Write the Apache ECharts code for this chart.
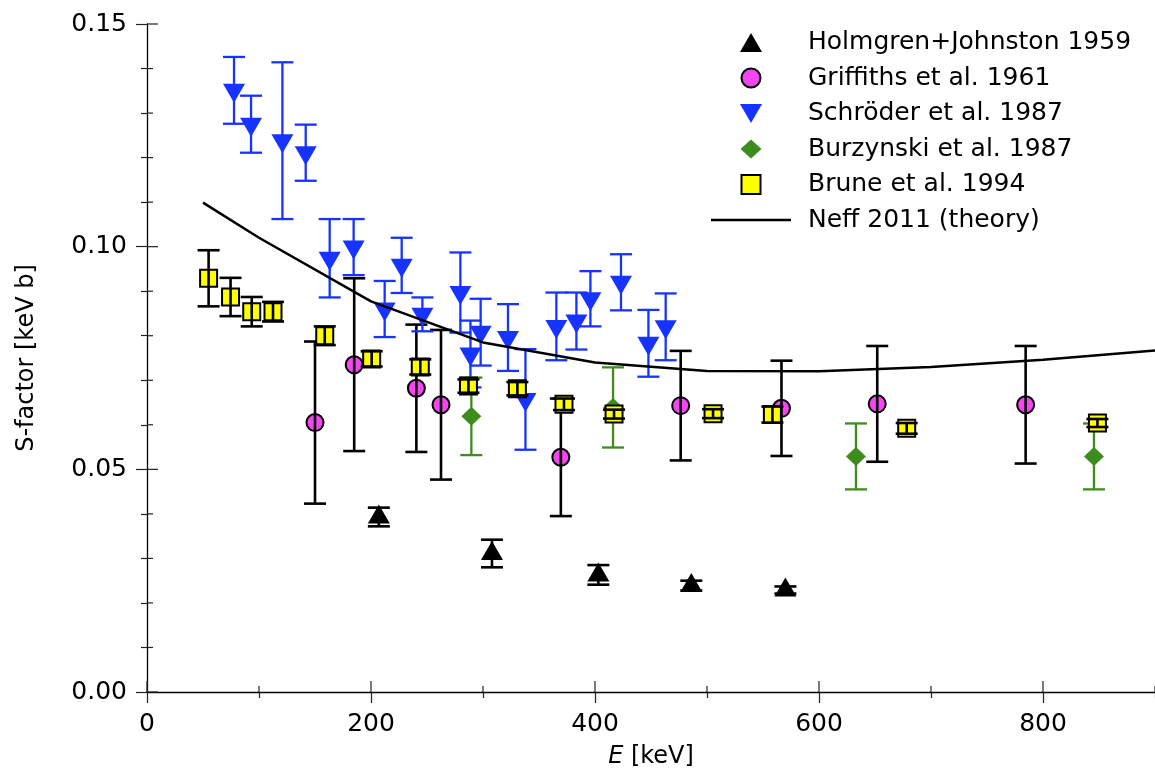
<!DOCTYPE html>
<html>
<head>
<meta charset="utf-8">
<script src="https://cdn.jsdelivr.net/npm/echarts@6/dist/echarts.min.js"></script>
<style>
html,body{margin:0;padding:0;background:#fff;}
#c{width:1155px;height:774px;}
</style>
</head>
<body>
<div id="c"></div>
<script>
// ---- data (E in keV, S-factor in keV b, symmetric errors) ----
const holmgrenE   = [207, 308, 403, 486, 570];
const holmgrenS   = [0.0393, 0.0311, 0.0263, 0.0239, 0.0229];
const holmgrenErr = [0.0021, 0.0031, 0.0022, 0.0011, 0.0008];

const griffithsE   = [150, 185, 240.5, 262.5, 369.5, 476.5, 566.5, 652, 784.5];
const griffithsS   = [0.0605, 0.0735, 0.0682, 0.0645, 0.0527, 0.0643, 0.0637, 0.0647, 0.0645];
const griffithsErr = [0.0182, 0.0194, 0.0143, 0.0168, 0.0132, 0.0123, 0.0107, 0.0130, 0.0132];

const schroederE   = [77.7, 92.9, 120.9, 141.7, 163.1, 184.5, 212.2, 227.4, 245.9, 279.8,
                      288.8, 297.9, 322.3, 337.9, 365.5, 383.4, 395.9, 423.2, 447.7, 463.1];
const schroederS   = [0.1351, 0.1275, 0.1238, 0.1211, 0.0974, 0.0999, 0.0860, 0.0958, 0.0848, 0.0897,
                      0.0759, 0.0808, 0.0796, 0.0657, 0.0821, 0.0833, 0.0883, 0.0920, 0.0783, 0.0820];
const schroederErr = [0.0075, 0.0064, 0.0176, 0.0063, 0.0088, 0.0063, 0.0063, 0.0062, 0.0038, 0.0090,
                      0.0075, 0.0075, 0.0075, 0.0113, 0.0076, 0.0064, 0.0062, 0.0063, 0.0075, 0.0075];

const burzynskiE   = [289.6, 416.1, 633, 845.5];
const burzynskiS   = [0.0619, 0.0639, 0.0529, 0.0529];
const burzynskiErr = [0.0087, 0.0090, 0.0074, 0.0074];

const bruneE   = [55, 74.6, 93.5, 112.5, 158.7, 200.6, 244, 287, 330.7, 372.3, 417, 505.4, 558.4, 678.3, 848.6];
const bruneS   = [0.0929, 0.0887, 0.0854, 0.0854, 0.0800, 0.0748, 0.0730, 0.0687, 0.0681, 0.0646,
                  0.0624, 0.0625, 0.0623, 0.0592, 0.0604];
const bruneErr = [0.0063, 0.0043, 0.0033, 0.0022, 0.0021, 0.0017, 0.0017, 0.0015, 0.0015, 0.0013,
                  0.0010, 0.0010, 0.0018, 0.0012, 0.0009];

const neffE = [50, 100, 200, 300, 400, 500, 600, 700, 800, 900];
const neffS = [0.1099, 0.1020, 0.0877, 0.0785, 0.0740, 0.0721, 0.0720, 0.0730, 0.0746, 0.0767];

const xMajorTicks = [0, 200, 400, 600, 800];
const xMinorTicks = [100, 300, 500, 700, 900];
const yMajorTicks = [0, 0.05, 0.10, 0.15];
const yMinorTicks = [0.01, 0.02, 0.03, 0.04, 0.06, 0.07, 0.08, 0.09, 0.11, 0.12, 0.13, 0.14];

const seriesNames = ['Holmgren+Johnston 1959', 'Griffiths et al. 1961', 'Schröder et al. 1987',
                     'Burzynski et al. 1987', 'Brune et al. 1994', 'Neff 2011 (theory)'];

// ---- helpers ----
const FONT = 'DejaVu Sans';
const MAJOR_LEN = 11, MINOR_LEN = 6;
const zip2 = (a, b) => a.map((v, i) => [v, b[i]]);
const zip3 = (a, b, c) => a.map((v, i) => [v, b[i], c[i]]);

function errRender(color, lw, cap) {
  return function (params, api) {
    const x = api.value(0), y = api.value(1), e = api.value(2);
    const lo = api.coord([x, y - e]);
    const hi = api.coord([x, y + e]);
    const h = cap / 2;
    const st = { stroke: color, lineWidth: lw, fill: null };
    return {
      type: 'group',
      children: [
        { type: 'line', shape: { x1: lo[0], y1: lo[1], x2: hi[0], y2: hi[1] }, style: st },
        { type: 'line', shape: { x1: lo[0] - h, y1: lo[1], x2: lo[0] + h, y2: lo[1] }, style: st },
        { type: 'line', shape: { x1: hi[0] - h, y1: hi[1], x2: hi[0] + h, y2: hi[1] }, style: st }
      ]
    };
  };
}
function errSeries(name, E, S, err, color, lw, z) {
  return {
    type: 'custom', name: name, z: z, silent: true,
    xAxisIndex: 0, yAxisIndex: 0,
    encode: { x: 0, y: 1 },
    data: zip3(E, S, err),
    renderItem: errRender(color, lw, 22)
  };
}

// inward half of the axis ticks (the outward half is drawn by the axes themselves)
const tickLine = { color: '#222', width: 1.2 };
function inTickSeries(name, values, isX, len) {
  return {
    type: 'custom', name: name, z: 1, silent: true, clip: false,
    xAxisIndex: 0, yAxisIndex: 0,
    encode: { x: 0, y: 1 },
    data: values.map(v => isX ? [v, 0] : [0, v]),
    renderItem: function (params, api) {
      const p = api.coord([api.value(0), api.value(1)]);
      const shape = isX ? { x1: p[0], y1: p[1], x2: p[0], y2: p[1] - len }
                        : { x1: p[0], y1: p[1], x2: p[0] + len, y2: p[1] };
      return { type: 'line', shape: shape, style: { stroke: tickLine.color, lineWidth: tickLine.width } };
    }
  };
}

const BLUE = '#1733ff', MAG = '#f545f0', GREEN = '#3e8c1e', YEL = '#ffff00';
const DOWN_TRI = 'path://M0,0L22,0L11,19Z';

const chart = echarts.init(document.getElementById('c'), null, { renderer: 'canvas' });

function xAx(extra) {
  return Object.assign({
    type: 'value', gridIndex: 0, position: 'bottom', min: 0, max: 900, interval: 100,
    axisLine: { show: false, onZero: false }, splitLine: { show: false },
    axisLabel: { show: false }, axisTick: { show: false }
  }, extra);
}
function yAx(extra) {
  return Object.assign({
    type: 'value', gridIndex: 0, position: 'left', min: 0, max: 0.15, interval: 0.01,
    axisLine: { show: false, onZero: false }, splitLine: { show: false },
    axisLabel: { show: false }, axisTick: { show: false }
  }, extra);
}

const option = {
  animation: false,
  backgroundColor: '#fff',
  grid: { left: 147, right: 0, top: 24, bottom: 81 },
  legend: {
    orient: 'vertical', left: 711, top: 30, padding: 0,
    itemWidth: 80, itemHeight: 19, itemGap: 10.5,
    selectedMode: false,
    textStyle: { fontFamily: FONT, fontSize: 25, color: '#000', lineHeight: 24, padding: [0, 0, 0, 12] },
    data: [
      { name: seriesNames[0], icon: 'path://M11,0L22,19L0,19Z' },
      { name: seriesNames[1], icon: 'path://M0,9A9,9,0,1,0,18,9A9,9,0,1,0,0,9Z' },
      { name: seriesNames[2], icon: DOWN_TRI },
      { name: seriesNames[3], icon: 'path://M10.5,0L21,9.5L10.5,19L0,9.5Z' },
      { name: seriesNames[4], icon: 'path://M0,0L18,0L18,18L0,18Z' },
      { name: seriesNames[5], icon: 'path://M0,0L80,0L80,2.4L0,2.4Z', itemStyle: { borderWidth: 0, color: '#000' } }
    ]
  },
  xAxis: [
    xAx({
      axisLine: { show: true, onZero: false, lineStyle: { color: '#000', width: 1.3 } },
      axisTick: { show: true, inside: false, length: MAJOR_LEN, lineStyle: tickLine, customValues: xMajorTicks },
      axisLabel: { show: true, customValues: xMajorTicks, fontFamily: FONT, fontSize: 25, color: '#000', margin: 20 },
      name: '{i|E} [keV]', nameLocation: 'middle', nameGap: 53,
      nameTextStyle: {
        fontFamily: FONT, fontSize: 24, color: '#000',
        rich: { i: { fontFamily: FONT, fontSize: 24, fontStyle: 'italic', color: '#000' } }
      }
    }),
    xAx({ axisTick: { show: true, inside: false, length: MINOR_LEN, lineStyle: tickLine, customValues: xMinorTicks } })
  ],
  yAxis: [
    yAx({
      axisLine: { show: true, onZero: false, lineStyle: { color: '#000', width: 1.3 } },
      axisTick: { show: true, inside: false, length: MAJOR_LEN, lineStyle: tickLine, customValues: yMajorTicks },
      axisLabel: {
        show: true, customValues: yMajorTicks, fontFamily: FONT, fontSize: 25, color: '#000', margin: 20,
        formatter: v => v.toFixed(2)
      },
      name: 'S-factor [keV b]', nameLocation: 'middle', nameGap: 108, nameRotate: 90,
      nameTextStyle: { fontFamily: FONT, fontSize: 24, color: '#000' }
    }),
    yAx({ axisTick: { show: true, inside: false, length: MINOR_LEN, lineStyle: tickLine, customValues: yMinorTicks } })
  ],
  series: [
    inTickSeries('x major in', xMajorTicks, true, MAJOR_LEN),
    inTickSeries('x minor in', xMinorTicks, true, MINOR_LEN),
    inTickSeries('y major in', yMajorTicks, false, MAJOR_LEN),
    inTickSeries('y minor in', yMinorTicks, false, MINOR_LEN),
    {
      type: 'scatter', name: seriesNames[0], z: 3, xAxisIndex: 0, yAxisIndex: 0,
      symbol: 'triangle', symbolSize: [22, 19], symbolOffset: [0, -3],
      itemStyle: { color: '#000', opacity: 1 },
      data: zip2(holmgrenE, holmgrenS)
    },
    errSeries('Holmgren err', holmgrenE, holmgrenS, holmgrenErr, '#000', 2.6, 4),
    {
      type: 'scatter', name: seriesNames[1], z: 5, xAxisIndex: 0, yAxisIndex: 0,
      symbol: 'circle', symbolSize: 17,
      itemStyle: { color: MAG, borderColor: '#000', borderWidth: 2, opacity: 1 },
      data: zip2(griffithsE, griffithsS)
    },
    errSeries('Griffiths err', griffithsE, griffithsS, griffithsErr, '#000', 2.6, 6),
    {
      type: 'scatter', name: seriesNames[2], z: 7, xAxisIndex: 0, yAxisIndex: 0,
      symbol: DOWN_TRI, symbolSize: [22, 19], symbolOffset: [0, 3], symbolKeepAspect: false,
      itemStyle: { color: BLUE, opacity: 1 },
      data: zip2(schroederE, schroederS)
    },
    errSeries('Schroeder err', schroederE, schroederS, schroederErr, BLUE, 2.3, 8),
    {
      type: 'scatter', name: seriesNames[3], z: 9, xAxisIndex: 0, yAxisIndex: 0,
      symbol: 'diamond', symbolSize: [20, 19],
      itemStyle: { color: GREEN, opacity: 1 },
      data: zip2(burzynskiE, burzynskiS)
    },
    errSeries('Burzynski err', burzynskiE, burzynskiS, burzynskiErr, GREEN, 2.3, 10),
    {
      type: 'scatter', name: seriesNames[4], z: 11, xAxisIndex: 0, yAxisIndex: 0,
      symbol: 'rect', symbolSize: 17,
      itemStyle: { color: YEL, borderColor: '#000', borderWidth: 2, opacity: 1 },
      data: zip2(bruneE, bruneS)
    },
    errSeries('Brune err', bruneE, bruneS, bruneErr, '#000', 2.6, 12),
    {
      type: 'line', name: seriesNames[5], z: 20, xAxisIndex: 0, yAxisIndex: 0,
      symbol: 'none', smooth: false,
      lineStyle: { color: '#000', width: 2.5 },
      itemStyle: { color: '#000' },
      data: zip2(neffE, neffS)
    }
  ]
};
chart.setOption(option);
</script>
</body>
</html>
